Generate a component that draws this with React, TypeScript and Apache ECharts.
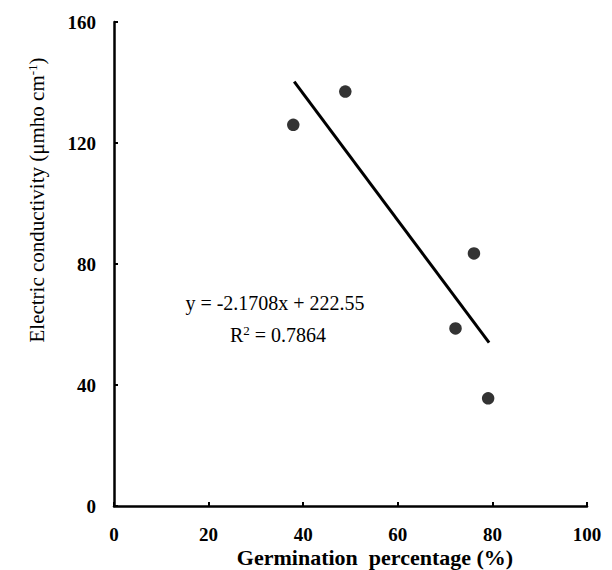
import React, { useEffect, useRef } from "react";
import * as echarts from "echarts";

const germination = [37.9, 48.9, 72.2, 76.1, 79.1];
const conductivity = [126.0, 137.0, 58.7, 83.5, 35.6];
const fitLineX = [38.1, 79.3];
const fitLineY = [140.3, 54.0];
const equationText = "y = -2.1708x + 222.55";
const rSquared = "0.7864";
const xTickStep = 20;
const yTickStep = 40;
const xTitle = "Germination  percentage (%)";

const serif = "Liberation Serif";

export default function App() {
  const ref = useRef<HTMLDivElement>(null);
  useEffect(() => {
    const chart = echarts.init(ref.current!, null, { renderer: "svg" });
    const fit = fitLineX.map((x, i) => [x, fitLineY[i]]);
    const points = germination.map((g, i) => [g, conductivity[i]]);
    const axisCommon = {
      type: "value",
      axisLine: { show: true, lineStyle: { color: "#000", width: 2.5 } },
      axisTick: { show: true, inside: true, length: 4, lineStyle: { color: "#000", width: 2 } },
      splitLine: { show: false },
      axisLabel: {
        color: "#000",
        fontFamily: serif,
        fontWeight: "bold",
        fontSize: 19,
      },
    };
    chart.setOption({
      animation: false,
      textStyle: { fontFamily: serif },
      grid: { left: 114, right: 25, top: 22, bottom: 64 },
      xAxis: {
        ...axisCommon,
        min: 0,
        max: 100,
        interval: xTickStep,
        axisLabel: { ...axisCommon.axisLabel, margin: 19 },
      },
      yAxis: {
        ...axisCommon,
        min: 0,
        max: 160,
        interval: yTickStep,
        axisLabel: { ...axisCommon.axisLabel, margin: 18 },
      },
      graphic: [
        {
          type: "text",
          x: 37,
          y: 200,
          rotation: Math.PI / 2,
          style: {
            text: "Electric conductivity (μmho cm{sup|-1})",
            font: `21px ${serif}`,
            fill: "#000",
            align: "center",
            verticalAlign: "middle",
            rich: {
              sup: { fontSize: 13, fontFamily: serif, fill: "#000", padding: [0, 0, 10, 0] },
            },
          },
        },
        {
          type: "text",
          x: 375,
          y: 557,
          style: {
            text: xTitle,
            font: `bold 22px ${serif}`,
            fill: "#000",
            align: "center",
            verticalAlign: "middle",
          },
        },
        {
          type: "text",
          x: 275,
          y: 303,
          style: {
            text: equationText,
            font: `20px ${serif}`,
            fill: "#000",
            align: "center",
            verticalAlign: "middle",
          },
        },
        {
          type: "text",
          x: 278,
          y: 335,
          style: {
            text: `R{sup|2} = ${rSquared}`,
            font: `20px ${serif}`,
            fill: "#000",
            align: "center",
            verticalAlign: "middle",
            rich: {
              sup: { fontSize: 13, fontFamily: serif, fill: "#000", padding: [0, 0, 10, 0] },
            },
          },
        },
      ],
      series: [
        {
          type: "line",
          data: fit,
          showSymbol: false,
          symbol: "none",
          lineStyle: { color: "#000", width: 3 },
          z: 2,
        },
        {
          type: "scatter",
          data: points,
          symbol: "circle",
          symbolSize: 12.5,
          itemStyle: { color: "#000" },
          z: 3,
        },
      ],
    });
    return () => chart.dispose();
  }, []);
  return (
    <div
      ref={ref}
      style={{ position: "absolute", left: 0, top: 0, width: 612, height: 570 }}
    />
  );
}
